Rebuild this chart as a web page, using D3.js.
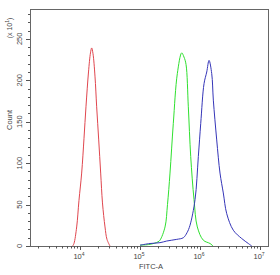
<!DOCTYPE html>
<html>
<head>
<meta charset="utf-8">
<script src="https://cdn.jsdelivr.net/npm/d3@7"></script>
<style>
	body { margin: 0; background: #fff; }
	text { font-family: "Liberation Sans", Arial, sans-serif; fill: #444; }
</style>
</head>
<body>
<div id="chart"></div>
<script>
// histogram outlines: [FITC-A, count (x10)]
var redPeak = [
	[7550, 0], [7940, 3], [8810, 23], [9620, 55], [10670, 88], [11670, 130],
	[12590, 168], [13870, 210], [14960, 233], [15670, 239], [16480, 232],
	[17780, 205], [18970, 168], [20510, 128], [22130, 88], [23710, 52],
	[26120, 23], [28180, 8], [31620, 0]
];
var greenPeak = [
	[100000, 1], [146900, 2], [199500, 5], [215300, 7], [261200, 23],
	[287100, 50], [316200, 88], [358900, 148], [418800, 208], [495500, 233],
	[540800, 228], [584800, 219], [638300, 168], [699800, 108], [794300, 56],
	[901600, 23], [1135000, 7], [1469000, 3], [1648000, 0]
];
var bluePeak = [
	[100000, 1], [146900, 3], [215300, 4], [278600, 6], [409300, 8],
	[527200, 10], [606700, 16], [680800, 25], [826000, 56], [937600, 108],
	[1028000, 148], [1167000, 196], [1294000, 210], [1413000, 224],
	[1567000, 208], [1667000, 176], [1897000, 128], [2153000, 88],
	[2443000, 64], [2786000, 39], [3589000, 19], [4955000, 9],
	[6383000, 3], [7278000, 0]
];
var yTicks = [0, 50, 100, 150, 200, 250];
var xTicks = [1e4, 1e5, 1e6, 1e7];
var xExponents = ["4", "5", "6", "7"];

var width = 280, height = 275;
var margin = {top: 9, right: 11, bottom: 29, left: 30};

var svg = d3.select("#chart").append("svg")
	.attr("width", width)
	.attr("height", height);

var x = d3.scaleLog()
	.domain([1470, 14100000])
	.range([margin.left, width - margin.right]);

var y = d3.scaleLinear()
	.domain([0, 286])
	.range([height - margin.bottom, margin.top]);

// frame
svg.append("rect")
	.attr("x", margin.left + 0.5)
	.attr("y", margin.top + 0.5)
	.attr("width", width - margin.left - margin.right - 1)
	.attr("height", height - margin.top - margin.bottom)
	.attr("fill", "none")
	.attr("stroke", "#666")
	.attr("stroke-width", 1);

// minor ticks
var yMinor = d3.range(0, 290, 10);
var xMinor = [];
[1e3, 1e4, 1e5, 1e6, 1e7].forEach(function(d) {
	for (var k = 1; k < 10; k++) {
		var v = d * k;
		if (v >= x.domain()[0] && v <= x.domain()[1]) xMinor.push(v);
	}
});

var axisColor = "#555";

svg.append("g").selectAll("line")
	.data(yMinor)
	.enter()
	.append("line")
	.attr("x1", margin.left)
	.attr("x2", function(d) { return margin.left - (d % 50 === 0 ? 4 : 2); })
	.attr("y1", function(d) { return Math.round(y(d)) + 0.5; })
	.attr("y2", function(d) { return Math.round(y(d)) + 0.5; })
	.attr("stroke", axisColor);

svg.append("g").selectAll("line")
	.data(xMinor)
	.enter()
	.append("line")
	.attr("x1", function(d) { return Math.round(x(d)) + 0.5; })
	.attr("x2", function(d) { return Math.round(x(d)) + 0.5; })
	.attr("y1", height - margin.bottom)
	.attr("y2", function(d) { return height - margin.bottom + (xTicks.indexOf(d) >= 0 ? 4 : 2.5); })
	.attr("stroke", axisColor);

// y labels
svg.append("g").selectAll("text")
	.data(yTicks)
	.enter()
	.append("text")
	.attr("transform", function(d) { return "translate(22," + y(d) + ") rotate(-90)"; })
	.attr("text-anchor", "middle")
	.attr("font-size", 7.5)
	.text(function(d) { return d; });

svg.append("text")
	.attr("transform", "translate(12," + 120 + ") rotate(-90)")
	.attr("text-anchor", "middle")
	.attr("font-size", 7.5)
	.text("Count");

var mult = svg.append("text")
	.attr("transform", "translate(12,28) rotate(-90)")
	.attr("text-anchor", "middle")
	.attr("font-size", 7);
mult.append("tspan").text("(x 10");
mult.append("tspan").attr("font-size", 5).attr("dy", -3).text("1");
mult.append("tspan").attr("dy", 3).text(")");

// x labels
var xl = svg.append("g").selectAll("text")
	.data(xTicks)
	.enter()
	.append("text")
	.attr("x", function(d) { return x(d) - 1; })
	.attr("y", height - margin.bottom + 13)
	.attr("text-anchor", "middle")
	.attr("font-size", 7.5);
xl.append("tspan").text("10");
xl.append("tspan").attr("font-size", 5).attr("dy", -3).text(function(d, i) { return xExponents[i]; });

svg.append("text")
	.attr("x", 151)
	.attr("y", height - margin.bottom + 23)
	.attr("text-anchor", "middle")
	.attr("font-size", 7.5)
	.text("FITC-A");

// histograms
var line = d3.line()
	.x(function(d) { return x(d[0]); })
	.y(function(d) { return y(d[1]); })
	.curve(d3.curveCatmullRom.alpha(0.5));

var series = [
	{data: redPeak, color: "#e0464e"},
	{data: greenPeak, color: "#2fe02f"},
	{data: bluePeak, color: "#3535b8"}
];

svg.append("g").selectAll("path")
	.data(series)
	.enter()
	.append("path")
	.attr("d", function(d) { return line(d.data); })
	.attr("fill", "none")
	.attr("stroke", function(d) { return d.color; })
	.attr("stroke-width", 1);
</script>
</body>
</html>
